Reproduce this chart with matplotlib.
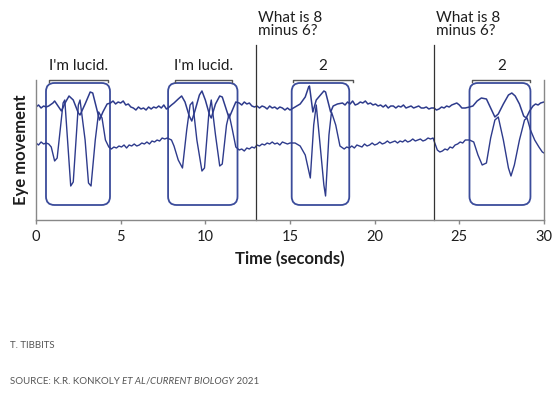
import matplotlib
matplotlib.use("Agg")
import matplotlib.pyplot as plt
from matplotlib.patches import FancyBboxPatch

plt.rcParams['font.family'] = ['Lato', 'DejaVu Sans']

# eye movement traces (time in s, signal in arbitrary units)
t_upper = [0, 0.15, 0.3, 0.45, 0.6, 0.75,
           1.0, 1.1, 1.3, 1.5, 1.75, 1.95, 2.2, 2.5, 2.6, 2.9, 3.2, 3.35, 3.6, 3.75, 3.95, 4.2,
           4.4, 4.55, 4.7, 4.85, 5.0, 5.15, 5.3, 5.45, 5.6, 5.75, 5.9, 6.05, 6.2, 6.35, 6.5,
           6.65, 6.8, 6.95, 7.1, 7.25, 7.4, 7.55, 7.7, 7.8,
           8.0, 8.15, 8.4, 8.6, 8.8, 9.05, 9.2, 9.4, 9.65, 9.8, 10.0, 10.25, 10.35, 10.6,
           10.85, 11.0, 11.25, 11.4, 11.6, 11.8,
           12.0, 12.15, 12.3, 12.45, 12.6, 12.75, 12.9, 13.05, 13.2, 13.35, 13.5, 13.65, 13.8,
           13.95, 14.1, 14.25, 14.4, 14.55, 14.7, 14.85, 15.0,
           15.3, 15.6, 15.9, 16.1, 16.15, 16.35, 16.55, 16.75, 17.0, 17.1, 17.4, 17.55, 17.8,
           18.1, 18.25, 18.4, 18.55, 18.7, 18.85, 19.0, 19.15, 19.3, 19.45, 19.6, 19.75, 19.9,
           20.05, 20.2, 20.35, 20.5, 20.65, 20.8, 20.95, 21.1, 21.25, 21.4, 21.55, 21.7, 21.85,
           22.0, 22.15, 22.3, 22.45, 22.6, 22.75, 22.9, 23.05, 23.2, 23.35, 23.5, 23.65, 23.8,
           23.95, 24.1, 24.25, 24.4, 24.55, 24.7, 24.85, 25.0, 25.15, 25.35,
           25.6, 25.8, 26.05, 26.3, 26.6, 26.85, 27.1, 27.3, 27.6, 27.9, 28.1, 28.3, 28.55,
           28.8, 28.95, 29.15,
           29.35, 29.5, 29.65, 29.8, 30.0]
y_upper = [113, 115, 112, 114, 113, 114,
           117, 119, 114, 109, 118, 124, 120, 107, 105, 116, 128, 127, 110, 100, 108, 116,
           117, 119, 116, 118, 117, 119, 115, 116, 113, 112, 110, 113, 111, 112, 110,
           113, 111, 113, 112, 114, 112, 115, 111, 112,
           115, 117, 121, 124, 118, 104, 99, 110, 125, 129, 120, 105, 102, 116,
           124, 123, 110, 102, 110, 118,
           117, 115, 118, 116, 117, 114, 113, 114, 112, 114, 113, 111, 114,
           112, 113, 111, 113, 112, 110, 112, 110,
           113, 116, 123, 133, 134, 108, 120, 124, 129, 128, 108, 114, 116,
           117, 115, 118, 116, 119, 115, 116, 118, 117, 119, 116, 117, 115,
           116, 114, 115, 113, 115, 112, 114, 114, 112, 114, 113, 115, 112,
           113, 114, 112, 113, 114, 112, 112, 113, 111, 112, 112, 110, 111,
           113, 112, 114, 113, 115, 116, 117, 115, 112, 112,
           113, 114, 119, 122, 121, 112, 103, 106, 116, 125, 127, 124, 116,
           104, 102, 109,
           114, 116, 115, 117, 118]

t_lower = [0, 0.15, 0.3, 0.45, 0.6, 0.75,
           0.9, 1.1, 1.25, 1.6, 1.7, 1.9, 2.05, 2.2, 2.5, 2.6, 2.9, 3.1, 3.25, 3.5, 3.7, 3.9,
           4.1,
           4.3, 4.45, 4.6, 4.75, 4.9, 5.05, 5.2, 5.35, 5.5, 5.65, 5.8, 5.95, 6.1, 6.25, 6.4,
           6.55, 6.7, 6.85, 7.0, 7.15, 7.3, 7.45, 7.6, 7.75,
           8.0, 8.15, 8.4, 8.65, 8.9, 9.1, 9.25, 9.5, 9.8, 9.95, 10.2, 10.35, 10.6, 10.85,
           11.0, 11.25, 11.4, 11.6, 11.8,
           12.0, 12.15, 12.3, 12.45, 12.6, 12.75, 12.9, 13.05, 13.2, 13.35, 13.5, 13.65, 13.8,
           13.95, 14.1, 14.25, 14.4, 14.55, 14.7, 14.85, 15.0,
           15.3, 15.6, 15.9, 16.1, 16.2, 16.4, 16.55, 16.75, 17.0, 17.1, 17.3, 17.45, 17.7,
           17.95,
           18.2, 18.35, 18.5, 18.65, 18.8, 18.95, 19.1, 19.25, 19.4, 19.55, 19.7, 19.85, 20.0,
           20.15, 20.3, 20.45, 20.6, 20.75, 20.9, 21.05, 21.2, 21.35, 21.5, 21.65, 21.8, 21.95,
           22.1, 22.25, 22.4, 22.55, 22.7, 22.85, 23.0, 23.15, 23.3, 23.45,
           23.55, 23.7, 23.85, 24.0, 24.15, 24.3, 24.45, 24.6, 24.75, 24.9, 25.05, 25.2, 25.35,
           25.6, 25.85, 26.1, 26.35, 26.6, 26.85, 27.1, 27.3, 27.6, 27.9, 28.05, 28.25, 28.55,
           28.85, 29.0, 29.2, 29.45, 29.7, 29.9, 30.0]
y_lower = [77, 75, 78, 76, 77, 76,
           73, 59, 62, 117, 120, 70, 34, 38, 115, 120, 80, 37, 34, 80, 108, 102,
           80,
           73, 71, 73, 72, 74, 73, 75, 72, 75, 74, 76, 74, 75, 77, 76,
           78, 76, 79, 78, 80, 79, 82, 81, 82,
           80, 74, 60, 52, 90, 115, 118, 80, 49, 52, 105, 120, 85, 54,
           56, 95, 106, 90, 73,
           70, 71, 69, 72, 71, 73, 72, 75, 74, 76, 75, 77, 76,
           78, 76, 77, 75, 78, 77, 76, 77,
           77, 74, 65, 50, 42, 95, 115, 80, 35, 24, 85, 108, 95,
           74,
           71, 73, 72, 74, 72, 75, 74, 73, 76, 74, 75, 77, 75,
           76, 78, 76, 77, 79, 77, 78, 79, 77, 79, 78, 80, 78,
           79, 81, 79, 80, 81, 79, 80, 82, 81, 82,
           77, 70, 68, 69, 71, 70, 73, 72, 75, 76, 78, 77, 80,
           80, 78, 65, 55, 57, 82, 100, 103, 80, 52, 44, 55, 80,
           100, 102, 90, 80, 73, 68, 67]

# highlighted signalling periods and their labels
box_start = [0.59, 7.8, 15.1, 25.6]
box_end = [4.37, 11.9, 18.5, 29.2]
bracket_start = [0.77, 8.2, 15.2, 25.75]
bracket_end = [4.25, 11.6, 18.7, 29.2]
bracket_labels = ["I'm lucid.", "I'm lucid.", "2", "2"]

# question onsets
question_times = [13.0, 23.5]
question_text = "What is 8\nminus 6?"

x_ticks = [0, 5, 10, 15, 20, 25, 30]

trace_color = '#2e3b8c'
box_color = '#3b4c9b'
text_color = '#1e1e1e'

fig = plt.figure(figsize=(5.59, 3.93), dpi=100)
ax = fig.add_axes([36 / 559, 173 / 393, 508 / 559, 140 / 393])

ax.plot(t_upper, y_upper, color=trace_color, lw=1.1)
ax.plot(t_lower, y_lower, color=trace_color, lw=1.0)

for x0, x1 in zip(box_start, box_end):
    box = FancyBboxPatch((x0, 15), x1 - x0, 122,
                         boxstyle='round,pad=0,rounding_size=0.5',
                         mutation_aspect=16.9, fill=False,
                         edgecolor=box_color, lw=1.3)
    ax.add_patch(box)

for x0, x1, lab in zip(bracket_start, bracket_end, bracket_labels):
    ax.plot([x0, x0, x1, x1], [138, 140.5, 140.5, 138], color='#555555',
            lw=1.0, clip_on=False)
    ax.text((x0 + x1) / 2, 154, lab, ha='center', va='center',
            fontsize=11, color=text_color)

for qt in question_times:
    ax.plot([qt, qt], [0, 175], color='#333333', lw=0.9, clip_on=False)
    ax.text(qt + 0.12, 209, question_text, ha='left', va='top',
            fontsize=11, color=text_color, linespacing=0.95)

ax.set_xlim(0, 30)
ax.set_ylim(0, 140)
ax.set_xticks(x_ticks)
ax.set_yticks([])
ax.tick_params(axis='x', length=3, width=1, color='#888888', pad=4,
               labelsize=10.5, labelcolor=text_color)
ax.spines['top'].set_visible(False)
for side in ['left', 'right', 'bottom']:
    ax.spines[side].set_color('#888888')
    ax.spines[side].set_linewidth(1.0)

ax.set_xlabel('Time (seconds)', fontsize=12, fontweight='bold',
              color=text_color, labelpad=5)
ax.set_ylabel('Eye movement', fontsize=12, fontweight='bold',
              color=text_color, labelpad=5)

# credits, with italic parts
footer_color = '#555555'
fig.text(10 / 559, 1 - 346 / 393, 'T. TIBBITS', fontsize=7,
         color=footer_color, va='center')

renderer = fig.canvas.get_renderer()
runs = [('SOURCE: K.R. KONKOLY ', 'normal'), ('ET AL', 'italic'),
        ('/', 'normal'), ('CURRENT BIOLOGY', 'italic'), (' 2021', 'normal')]
xpos = 10
for s, st in runs:
    t = fig.text(xpos / 559, 1 - 381 / 393, s, fontsize=7, style=st,
                 color=footer_color, va='center')
    xpos += t.get_window_extent(renderer).width

fig.savefig('out.png', dpi=100)
